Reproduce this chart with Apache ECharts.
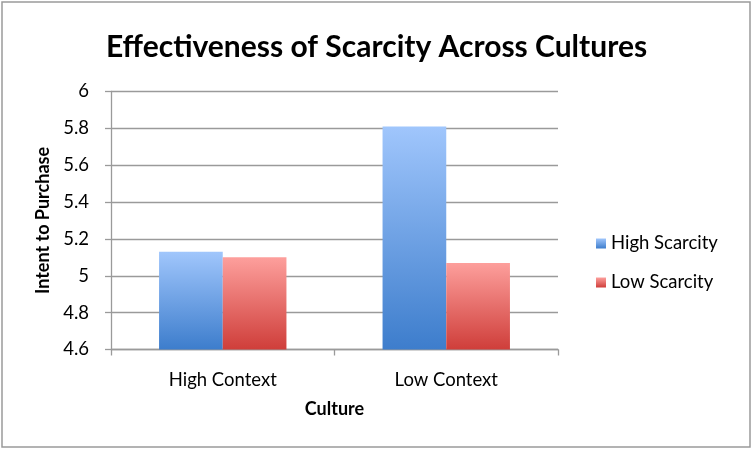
<!DOCTYPE html>
<html>
<head>
<meta charset="utf-8">
<script src="https://cdn.jsdelivr.net/npm/echarts@6/dist/echarts.min.js"></script>
<style>
  html, body { margin: 0; padding: 0; background: #fff; }
  #main { width: 753px; height: 452px; }
</style>
</head>
<body>
<div id="main"></div>
<script>
// data
var categories = ['High Context', 'Low Context'];
var highScarcity = [5.13, 5.81];
var lowScarcity = [5.10, 5.07];
var yTicks = { min: 4.6, max: 6, step: 0.2 };

function grad(top, bottom) {
	return {
		type: 'linear', x: 0, y: 0, x2: 0, y2: 1,
		colorStops: [{ offset: 0, color: top }, { offset: 1, color: bottom }]
	};
}

var font = 'Lato';
var myChart = echarts.init(document.getElementById('main'));
myChart.setOption({
	animation: false,
	textStyle: { fontFamily: font },
	graphic: [{
		type: 'rect',
		shape: { x: 2, y: 2, width: 748, height: 445 },
		style: { fill: 'none', stroke: '#9a9a9a', lineWidth: 1.5 }
	}],
	title: {
		text: 'Effectiveness of Scarcity Across Cultures',
		left: 'center',
		top: 27,
		textStyle: { fontFamily: font, fontSize: 30, fontWeight: 'bold', color: '#000' }
	},
	legend: {
		orient: 'vertical',
		left: 591,
		top: 229,
		icon: 'rect',
		itemWidth: 10,
		itemHeight: 10,
		itemGap: 20,
		textStyle: { fontFamily: font, fontSize: 18.5, color: '#000' },
		data: ['High Scarcity', 'Low Scarcity']
	},
	grid: {
		left: 111,
		right: 195,
		top: 91.5,
		bottom: 102.5
	},
	xAxis: {
		type: 'category',
		data: categories,
		name: 'Culture',
		nameLocation: 'middle',
		nameGap: 51,
		nameTextStyle: { fontFamily: font, fontSize: 18, fontWeight: 'bold', color: '#000' },
		axisLine: { lineStyle: { color: '#9a9a9a', width: 1.3 } },
		axisTick: { show: true, length: 6, lineStyle: { color: '#9a9a9a', width: 1.3 } },
		axisLabel: { margin: 21, fontSize: 18.5, color: '#000', fontFamily: font }
	},
	yAxis: {
		type: 'value',
		min: yTicks.min,
		max: yTicks.max,
		interval: yTicks.step,
		name: 'Intent to Purchase',
		nameLocation: 'middle',
		nameGap: 57,
		nameTextStyle: { fontFamily: font, fontSize: 18, fontWeight: 'bold', color: '#000' },
		axisLine: { show: true, lineStyle: { color: '#9a9a9a', width: 1.3 } },
		axisTick: { show: true, length: 6, lineStyle: { color: '#9a9a9a', width: 1.3 } },
		axisLabel: {
			margin: 22,
			fontSize: 18.5,
			color: '#000',
			fontFamily: font,
			formatter: function (v) { return String(Math.round(v * 10) / 10); }
		},
		splitLine: { lineStyle: { color: '#9a9a9a', width: 1.3 } }
	},
	series: [{
		name: 'High Scarcity',
		type: 'bar',
		data: highScarcity,
		barGap: '0%',
		barCategoryGap: '43%',
		itemStyle: { color: grad('#a0c6fc', '#3d7dcc') }
	},
	{
		name: 'Low Scarcity',
		type: 'bar',
		data: lowScarcity,
		barGap: '0%',
		barCategoryGap: '43%',
		itemStyle: { color: grad('#fd9f9c', '#cf3e3a') }
	}]
});
</script>
</body>
</html>
